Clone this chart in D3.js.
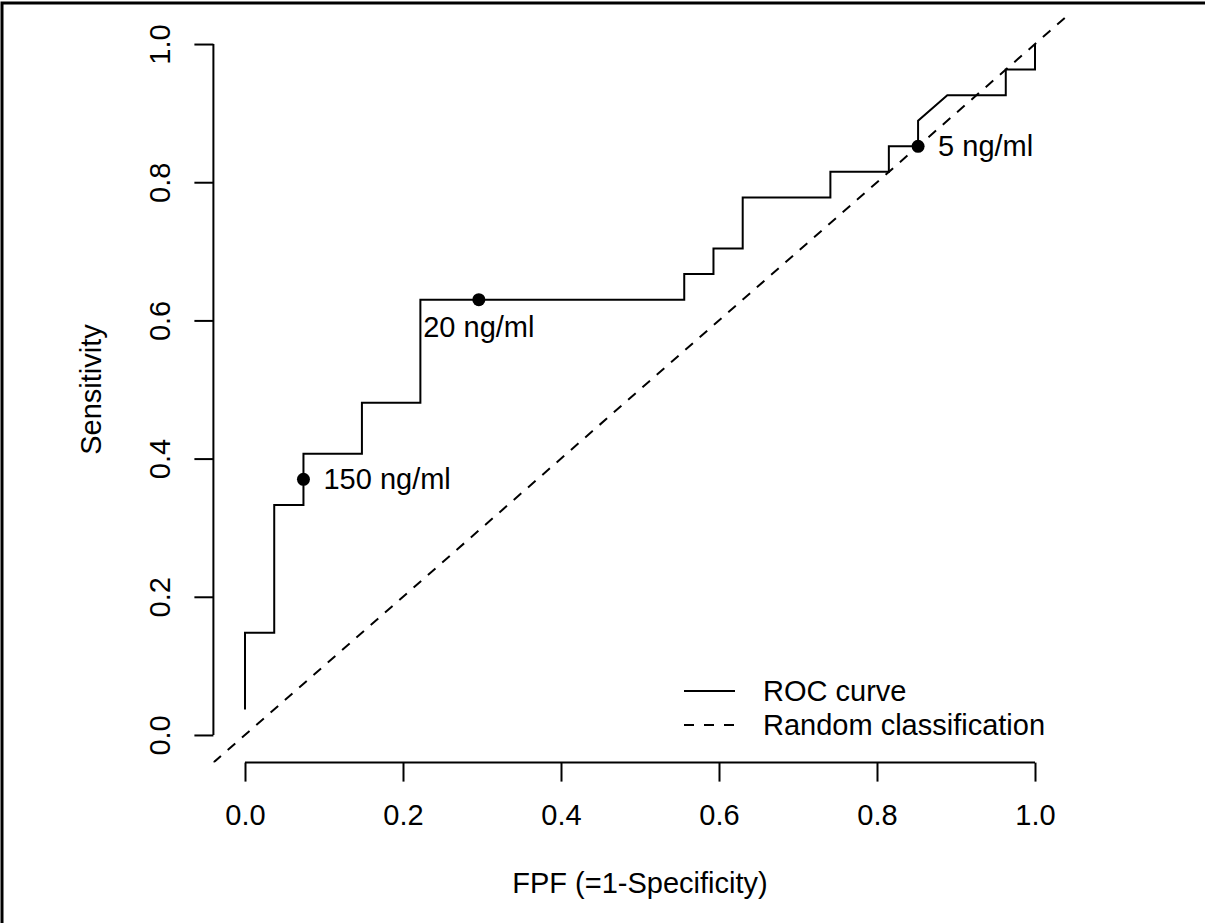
<!DOCTYPE html>
<html>
<head>
<meta charset="utf-8">
<script src="https://cdn.jsdelivr.net/npm/d3@7"></script>
<style>
  body { margin: 0; background: #fff; }
  svg text { font-family: "Liberation Sans", Arial, sans-serif; fill: #000; }
</style>
</head>
<body>
<div id="chart"></div>
<script>
// ROC curve vertices (FPF, sensitivity)
const fpf = [0, 0, 0.037, 0.037, 0.074, 0.074, 0.148, 0.148, 0.222, 0.222, 0.556, 0.556, 0.593, 0.593,
    0.630, 0.630, 0.741, 0.741, 0.815, 0.815, 0.852, 0.852, 0.889, 0.963, 0.963, 1.0, 1.0];
const tpf = [0.037, 0.148, 0.148, 0.333, 0.333, 0.407, 0.407, 0.481, 0.481, 0.630, 0.630, 0.667, 0.667, 0.704,
    0.704, 0.778, 0.778, 0.815, 0.815, 0.852, 0.852, 0.889, 0.926, 0.926, 0.963, 0.963, 1.0];

// marked cut-off points
const cutLabels = ["150 ng/ml", "20 ng/ml", "5 ng/ml"];
const cutFpf = [0.074, 0.296, 0.852];
const cutTpf = [0.370, 0.630, 0.852];

const tickValues = [0, 0.2, 0.4, 0.6, 0.8, 1.0];
const legendLabels = ["ROC curve", "Random classification"];

const W = 1205, H = 923;
const fontSize = 29;

const svg = d3.select("#chart").append("svg")
    .attr("width", W)
    .attr("height", H);

// outer frame (only top and left edges are inside the picture)
svg.append("path")
    .attr("d", `M2,${H + 10}V3H${W + 10}`)
    .attr("fill", "none")
    .attr("stroke", "#000")
    .attr("stroke-width", 3);

const x = d3.scaleLinear().domain([-0.04, 1.04]).range([213.4, 1066.6]);
const y = d3.scaleLinear().domain([-0.04, 1.04]).range([762.6, 16.4]);

svg.append("clipPath").attr("id", "plotclip")
    .append("rect")
    .attr("x", x(-0.04)).attr("y", y(1.04))
    .attr("width", x(1.04) - x(-0.04))
    .attr("height", y(-0.04) - y(1.04));

// x axis
const xAxis = svg.append("g")
    .attr("transform", `translate(0,${y(-0.04)})`)
    .call(d3.axisBottom(x).tickValues(tickValues).tickFormat(d3.format(".1f")).tickSizeOuter(0).tickSize(19).tickPadding(0));
xAxis.select(".domain").attr("d", `M${x(0)},0H${x(1)}`);
xAxis.selectAll("line, path").attr("stroke", "#000").attr("stroke-width", 2);
xAxis.selectAll("text")
    .attr("y", 52)
    .attr("dy", null)
    .attr("dominant-baseline", "central")
    .style("font-size", fontSize + "px")
    .style("font-family", "Liberation Sans, Arial, sans-serif");

// y axis
const yAxis = svg.append("g")
    .attr("transform", `translate(${x(-0.04)},0)`)
    .call(d3.axisLeft(y).tickValues(tickValues).tickFormat(d3.format(".1f")).tickSizeOuter(0).tickSize(19).tickPadding(0));
yAxis.select(".domain").attr("d", `M0,${y(0)}V${y(1)}`);
yAxis.selectAll("line, path").attr("stroke", "#000").attr("stroke-width", 2);
yAxis.selectAll("text")
    .attr("x", null)
    .attr("dy", null)
    .attr("text-anchor", "middle")
    .attr("dominant-baseline", "central")
    .attr("transform", "translate(-53,0) rotate(-90)")
    .style("font-size", fontSize + "px")
    .style("font-family", "Liberation Sans, Arial, sans-serif");

// axis titles
svg.append("text")
    .attr("x", (x(-0.04) + x(1.04)) / 2)
    .attr("y", y(-0.04) + 120)
    .attr("text-anchor", "middle")
    .attr("dominant-baseline", "central")
    .style("font-size", fontSize + "px")
    .text("FPF (=1-Specificity)");

svg.append("text")
    .attr("transform", `translate(${x(-0.04) - 122},${(y(-0.04) + y(1.04)) / 2}) rotate(-90)`)
    .attr("text-anchor", "middle")
    .attr("dominant-baseline", "central")
    .style("font-size", fontSize + "px")
    .text("Sensitivity");

const plot = svg.append("g").attr("clip-path", "url(#plotclip)");

// random classification diagonal
plot.append("line")
    .attr("x1", x(-0.04)).attr("y1", y(-0.04))
    .attr("x2", x(1.04)).attr("y2", y(1.04))
    .attr("stroke", "#000")
    .attr("stroke-width", 2)
    .attr("stroke-dasharray", "10,9");

// ROC curve
const rocData = fpf.map((f, i) => ({ f: f, t: tpf[i] }));
const line = d3.line().x(d => x(d.f)).y(d => y(d.t));
plot.append("path")
    .datum(rocData)
    .attr("fill", "none")
    .attr("stroke", "#000")
    .attr("stroke-width", 2)
    .attr("stroke-linejoin", "miter")
    .attr("d", line);

// cut-off points
const cuts = cutLabels.map((l, i) => ({ label: l, f: cutFpf[i], t: cutTpf[i] }));
const below = { "20 ng/ml": true };

svg.selectAll("circle.cut")
    .data(cuts)
    .enter()
    .append("circle")
    .attr("class", "cut")
    .attr("cx", d => x(d.f))
    .attr("cy", d => y(d.t))
    .attr("r", 6.5)
    .attr("fill", "#000");

svg.selectAll("text.cut")
    .data(cuts)
    .enter()
    .append("text")
    .attr("class", "cut")
    .attr("x", d => below[d.label] ? x(d.f) : x(d.f) + 20)
    .attr("y", d => below[d.label] ? y(d.t) + 27 : y(d.t))
    .attr("text-anchor", d => below[d.label] ? "middle" : "start")
    .attr("dominant-baseline", "central")
    .style("font-size", fontSize + "px")
    .text(d => d.label);

// legend (bottom right, no box)
const legend = svg.append("g").attr("transform", "translate(684,691)");
legendLabels.forEach((lab, i) => {
    legend.append("line")
        .attr("x1", 0).attr("x2", 51)
        .attr("y1", i * 34).attr("y2", i * 34)
        .attr("stroke", "#000")
        .attr("stroke-width", 2)
        .attr("stroke-dasharray", i === 1 ? "10,10" : null);
    legend.append("text")
        .attr("x", 79)
        .attr("y", i * 34)
        .attr("dominant-baseline", "central")
        .style("font-size", fontSize + "px")
        .text(lab);
});
</script>
</body>
</html>
